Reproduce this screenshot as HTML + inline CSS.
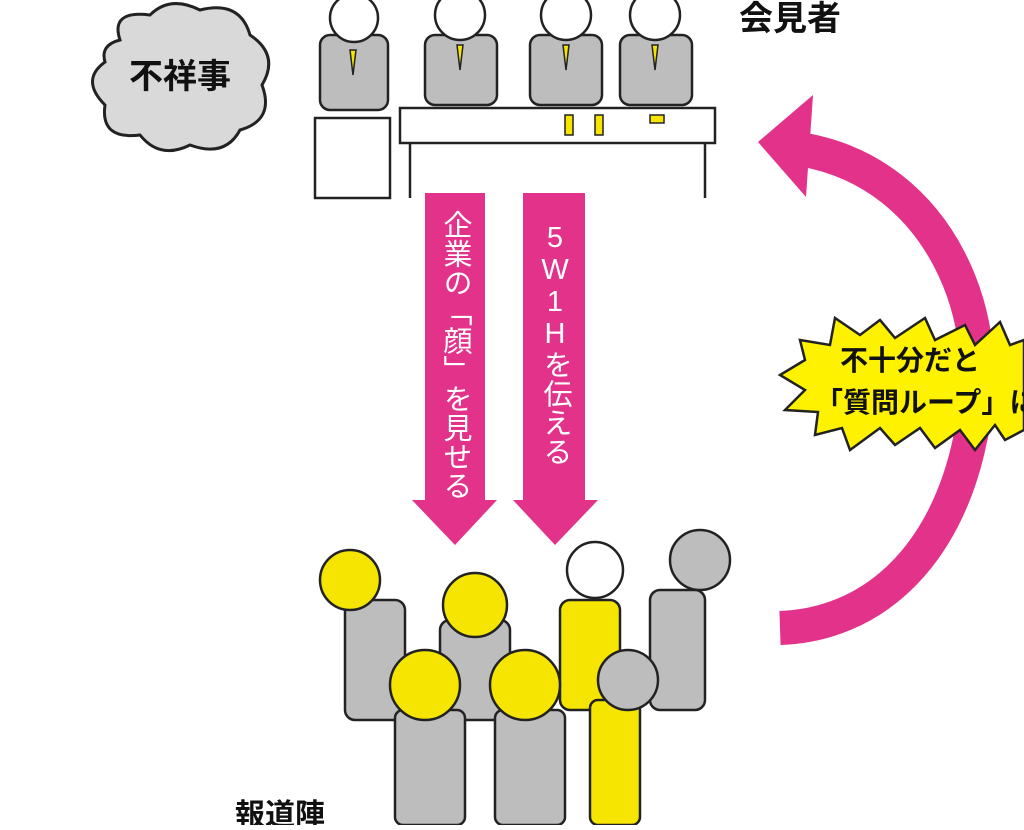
<!DOCTYPE html>
<html><head><meta charset="utf-8"><style>
html,body{margin:0;padding:0;background:#fff;}
body{width:1024px;height:825px;overflow:hidden;font-family:"Liberation Sans","Noto Sans CJK JP",sans-serif;}
.vt{writing-mode:vertical-rl;text-orientation:upright;}
</style></head><body>
<svg width="1024" height="825" viewBox="0 0 1024 825" xmlns="http://www.w3.org/2000/svg" font-family="Liberation Sans, Noto Sans CJK JP, sans-serif">
<path d="M120 40 Q110 10 150 15 Q170 -5 200 10 Q240 0 250 35 Q280 55 262 85 Q275 120 240 130 Q225 158 190 145 Q160 160 140 135 Q100 140 105 105 Q80 80 105 62 Q100 45 120 40Z" fill="#d9d9d9" stroke="#222" stroke-width="3"/>
<text x="180" y="88" font-size="34" font-weight="bold" text-anchor="middle" fill="#111">不祥事</text>
<g stroke="#222" stroke-width="2.5">
<rect x="320" y="35" width="68" height="75" rx="10" fill="#bdbdbd"/>
<circle cx="354" cy="18" r="24" fill="#fff"/>
<rect x="425" y="35" width="72" height="70" rx="10" fill="#bdbdbd"/>
<circle cx="460" cy="15" r="25" fill="#fff"/>
<rect x="530" y="35" width="72" height="70" rx="10" fill="#bdbdbd"/>
<circle cx="566" cy="15" r="25" fill="#fff"/>
<rect x="620" y="35" width="72" height="70" rx="10" fill="#bdbdbd"/>
<circle cx="655" cy="15" r="25" fill="#fff"/>
<rect x="315" y="118" width="75" height="80" fill="#fff"/>
<rect x="400" y="108" width="315" height="35" fill="#fff"/>
<line x1="410" y1="143" x2="410" y2="198"/><line x1="705" y1="143" x2="705" y2="198"/>
</g>
<g fill="#f6e500" stroke="#222" stroke-width="1.5">
<rect x="565" y="115" width="8" height="20"/><rect x="595" y="115" width="8" height="20"/><rect x="650" y="115" width="14" height="8"/>
<polygon points="350,50 356,50 353,75"/><polygon points="457,45 463,45 460,70"/><polygon points="563,45 569,45 566,70"/><polygon points="652,45 658,45 655,70"/>
</g>
<text x="790" y="30" font-size="34" font-weight="bold" text-anchor="middle" fill="#111">会見者</text>
<polygon points="425,193 485,193 485,500 497,500 455,545 412,500 425,500" fill="#e2328a"/>
<polygon points="523,193 585,193 585,500 598,500 555,545 513,500 523,500" fill="#e2328a"/>
<text class="vt" font-size="29" fill="#fff" x="455" y="210">企業の「顔」を見せる</text>
<text class="vt" font-size="29" fill="#fff" x="555" y="222">5W1Hを伝える</text>
<path d="M805 150 C940 175 1000 320 970 440 C945 560 870 625 780 628" fill="none" stroke="#e2328a" stroke-width="34"/>
<polygon points="758,142 813,95 806,197" fill="#e2328a"/>
<polygon points="800,340 830,345 835,318 860,335 880,320 895,338 925,318 935,340 965,325 975,345 1000,322 1010,345 1024,340 1024,430 1005,440 995,425 975,450 960,430 935,448 920,428 895,445 880,428 850,450 842,428 815,435 818,412 785,410 805,390 780,375 805,360" fill="#fff200" stroke="#222" stroke-width="2.5"/>
<text x="910" y="370" font-size="28" font-weight="bold" text-anchor="middle" fill="#111">不十分だと</text>
<text x="815" y="412" font-size="28" font-weight="bold" fill="#111">「質問ループ」に</text>
<g stroke="#222" stroke-width="2.5">
<rect x="345" y="600" width="60" height="120" rx="10" fill="#bdbdbd"/>
<circle cx="350" cy="580" r="30" fill="#f6e500"/>
<rect x="650" y="590" width="55" height="120" rx="10" fill="#bdbdbd"/>
<circle cx="700" cy="560" r="30" fill="#bdbdbd"/>
<rect x="560" y="600" width="60" height="110" rx="10" fill="#f6e500"/>
<circle cx="595" cy="570" r="28" fill="#fff"/>
<rect x="440" y="620" width="70" height="100" rx="10" fill="#bdbdbd"/>
<circle cx="475" cy="605" r="32" fill="#f6e500"/>
<rect x="590" y="700" width="50" height="125" rx="8" fill="#f6e500"/>
<circle cx="628" cy="680" r="30" fill="#bdbdbd"/>
<rect x="395" y="710" width="70" height="115" rx="8" fill="#bdbdbd"/>
<circle cx="425" cy="685" r="35" fill="#f6e500"/>
<rect x="495" y="710" width="70" height="115" rx="8" fill="#bdbdbd"/>
<circle cx="525" cy="685" r="35" fill="#f6e500"/>
</g>
<text x="235" y="825" font-size="30" font-weight="bold" fill="#111">報道陣</text>
</svg>
</body></html>
